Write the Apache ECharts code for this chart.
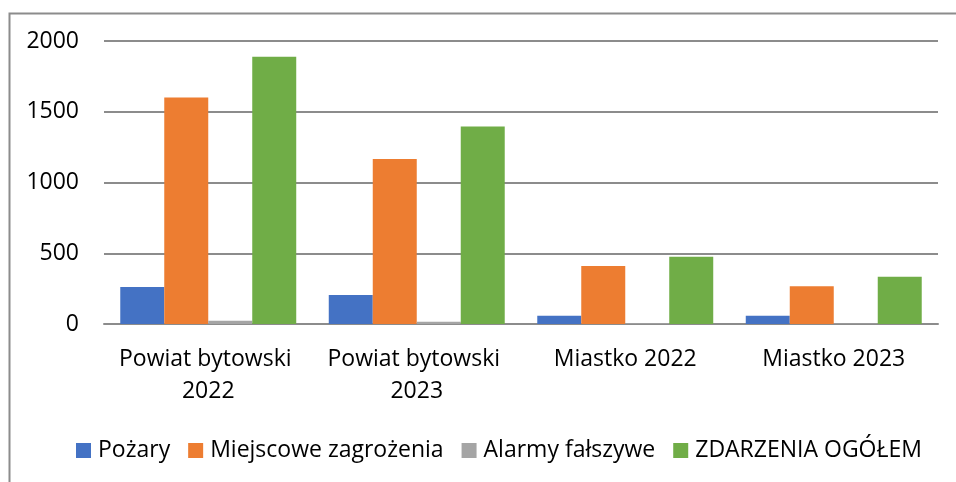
<!DOCTYPE html>
<html>
<head>
<meta charset="utf-8">
<script src="https://cdn.jsdelivr.net/npm/echarts@6/dist/echarts.min.js"></script>
<style>
  html, body { margin: 0; padding: 0; background: #fff; }
  #chart { width: 956px; height: 482px; }
</style>
</head>
<body>
<div id="chart"></div>
<script>
var categories = ['Powiat bytowski 2022', 'Powiat bytowski 2023', 'Miastko 2022', 'Miastko 2023'];
var pozary = [261, 205, 59, 59];
var miejscowe = [1600, 1166, 410, 266];
var alarmy = [23, 16, 5, 3];
var ogolem = [1889, 1395, 476, 334];

var dom = document.getElementById('chart');
var myChart = echarts.init(dom);

var font = 'Open Sans';
var option;

option = {
    animation: false,
    color: ['#4472C4', '#ED7D31', '#A5A5A5', '#70AD47'],
    graphic: [{
        type: 'rect',
        left: 7,
        top: 11,
        shape: { width: 980, height: 500 },
        style: { fill: 'none', stroke: '#8c8c8c', lineWidth: 2 },
        silent: true
    }],
    grid: {
        left: 104,
        right: 18,
        top: 41,
        bottom: 158
    },
    legend: {
        top: 434,
        left: 71,
        itemWidth: 15,
        itemHeight: 15,
        itemGap: 18,
        icon: 'rect',
        textStyle: { fontFamily: font, fontSize: 23, color: '#000', padding: [0, 0, 0, 2] }
    },
    xAxis: {
        type: 'category',
        data: categories,
        axisTick: { show: false },
        axisLine: { lineStyle: { color: '#8c8c8c', width: 2 } },
        axisLabel: {
            fontFamily: font,
            fontSize: 23,
            color: '#000',
            margin: 19,
            lineHeight: 32,
            width: 205,
            overflow: 'break',
            interval: 0
        }
    },
    yAxis: {
        type: 'value',
        min: 0,
        max: 2000,
        interval: 500,
        axisLabel: {
            fontFamily: font,
            fontSize: 23,
            color: '#000',
            margin: 25,
            formatter: function (v) { return String(v); }
        },
        splitLine: { lineStyle: { color: '#8c8c8c', width: 2 } }
    },
    series: [
        { name: 'Pożary', type: 'bar', data: pozary, barGap: '0%', barCategoryGap: '15.6%' },
        { name: 'Miejscowe zagrożenia', type: 'bar', data: miejscowe },
        { name: 'Alarmy fałszywe', type: 'bar', data: alarmy },
        { name: 'ZDARZENIA OGÓŁEM', type: 'bar', data: ogolem }
    ]
};

if (option && typeof option === 'object') {
    myChart.setOption(option);
}
</script>
</body>
</html>
